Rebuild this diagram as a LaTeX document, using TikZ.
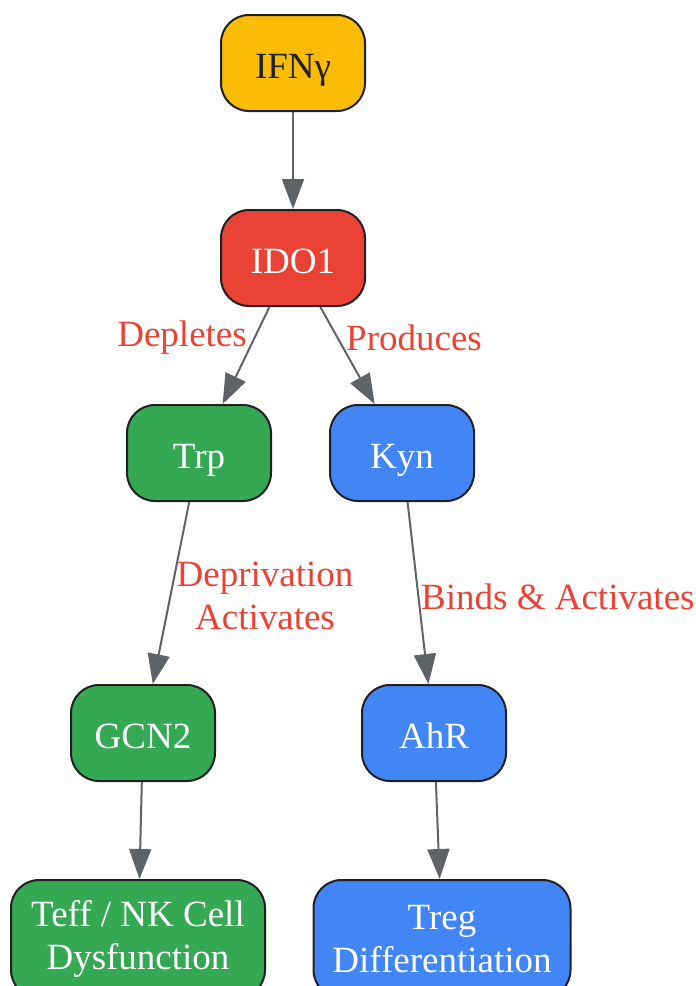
\documentclass[tikz,border=0pt]{standalone}
\usepackage{fontspec}
\setmainfont{Liberation Serif}
\usetikzlibrary{arrows.meta}

\definecolor{ifnyellow}{HTML}{FBBC05}
\definecolor{idored}{HTML}{EA4335}
\definecolor{trpgreen}{HTML}{34A853}
\definecolor{kynblue}{HTML}{4285F4}
\definecolor{boxline}{HTML}{202124}
\definecolor{edgegray}{HTML}{5F6368}

\begin{document}
\begin{tikzpicture}[x=1pt,y=-1pt,
    box/.style={draw=boxline,line width=2pt,rounded corners=28pt,minimum width=144pt,minimum height=96pt,inner sep=0pt,align=center,text=white,font=\fontsize{37}{43}\selectfont},
    oneline/.style={text height=30pt,text depth=0pt},
    edge/.style={draw=edgegray,line width=2pt,-{Triangle[length=30pt,width=22pt]}},
    lbl/.style={text=idored,inner sep=0pt,align=center,font=\fontsize{37}{43}\selectfont}]

        \useasboundingbox (0,0) rectangle (696,986);

        \node[box,oneline,fill=ifnyellow,text=boxline] (ifng) at (293,63) {IFNγ};
        \node[box,oneline,fill=idored] (ido1) at (293,258) {IDO1};

        \node[box,oneline,fill=trpgreen] (trp) at (199,453) {Trp};
        \node[box,oneline,fill=kynblue] (kyn) at (402,453) {Kyn};

        \node[box,oneline,fill=trpgreen] (gcn2) at (143,733) {GCN2};
        \node[box,oneline,fill=kynblue] (ahr) at (434,733) {AhR};

        \node[box,fill=trpgreen,minimum width=254pt,minimum height=118pt] (teff) at (138,939) {Teff / NK Cell\\Dysfunction};
        \node[box,fill=kynblue,minimum width=257pt,minimum height=118pt] (treg) at (442,939) {Treg\\Differentiation};

        \draw[edge] (ifng) -- (ido1);

        \draw[edge] (ido1) -- (trp);
        \draw[edge] (ido1) -- (kyn);

        \draw[edge] (trp) -- (gcn2);
        \draw[edge] (kyn) -- (ahr);

        \draw[edge] (gcn2) -- (teff);
        \draw[edge] (ahr) -- (treg);

        \node[lbl,anchor=east] (depl) at (247,338) {Depletes};
        \node[lbl,anchor=west] (prod) at (346,338) {Produces};
        \node[lbl] (depr) at (265,596) {Deprivation\\Activates};
        \node[lbl,anchor=west] (bind) at (421,597) {Binds \& Activates};

\end{tikzpicture}
\end{document}
